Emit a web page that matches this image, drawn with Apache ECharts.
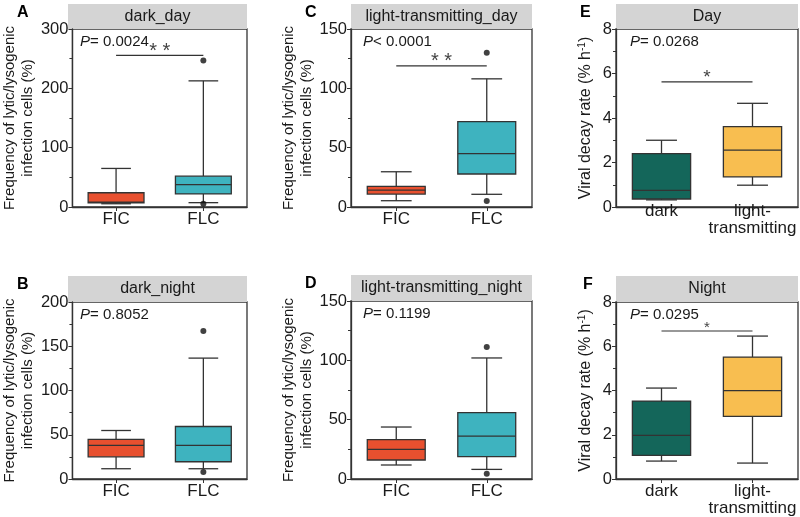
<!DOCTYPE html>
<html>
<head>
<meta charset="utf-8">
<script src="https://cdn.jsdelivr.net/npm/echarts@6/dist/echarts.min.js"></script>
<style>
  html, body { margin: 0; padding: 0; background: #fff; }
  #main { width: 800px; height: 517px; }
</style>
</head>
<body>
<div id="main"></div>
<script>
// categories
const freqCats = ['FIC', 'FLC'];
const decayCats = ['dark', 'light-\ntransmitting'];

// box data: [min, Q1, median, Q3, max]
const darkDayBox = [[5.5, 7.2, 8, 24, 65], [7.3, 22, 37.6, 52, 212.6]];
const darkDayOut = [[1, 246.8], [1, 5.6]];
const lightDayBox = [[5.3, 10.9, 14.3, 17.4, 29.7], [10.7, 27.8, 44.9, 72, 108]];
const lightDayOut = [[1, 130], [1, 5]];
const darkNightBox = [[11.6, 25.1, 37.9, 44.7, 54.8], [11.6, 19.5, 37.9, 59.3, 136.6]];
const darkNightOut = [[1, 167.3], [1, 7.9]];
const lightNightBox = [[11.8, 16, 25, 33.1, 43.8], [8.1, 18.8, 36.2, 55.9, 102]];
const lightNightOut = [[1, 111.2], [1, 4.5]];
const dayDecayBox = [[0.32, 0.36, 0.75, 2.4, 3.0], [0.98, 1.35, 2.56, 3.61, 4.66]];
const nightDecayBox = [[0.81, 1.07, 1.97, 3.52, 4.11], [0.72, 2.83, 3.99, 5.51, 6.46]];

// significance bars: [from, to, y]
const darkDaySig = [0, 1, 255.7];
const lightDaySig = [0, 1, 119];
const dayDecaySig = [0, 1, 5.62];
const nightDecaySig = [0, 1, 6.69];

// p values and y scales
const pTexts = ['= 0.0024', '< 0.0001', '= 0.0268', '= 0.8052', '= 0.1199', '= 0.0295'];
const yMax = [300, 150, 8, 200, 150, 8];
const yStep = [100, 50, 2, 50, 50, 2];

const freqColors = ['#E8502F', '#3EB3BF'];
const decayColors = ['#14665A', '#F8BE50'];
const freqName = 'Frequency of lytic/lysogenic\ninfection cells (%)';

const panels = [
  { letter: 'A', title: 'dark_day', cats: freqCats, colors: freqColors, box: darkDayBox, out: darkDayOut, sig: darkDaySig, mark: '* *',
    grid: { left: 68, top: 29, width: 179, height: 178 }, strip: 25, nameGap: 34, labelMargin: 3, markSize: 20, letterDx: 51 },
  { letter: 'C', title: 'light-transmitting_day', cats: freqCats, colors: freqColors, box: lightDayBox, out: lightDayOut, sig: lightDaySig, mark: '* *',
    grid: { left: 351, top: 29, width: 181, height: 178 }, strip: 25, nameGap: 28, labelMargin: 3, markSize: 20, letterDx: 46 },
  { letter: 'E', title: 'Day', cats: decayCats, colors: decayColors, box: dayDecayBox, out: [], sig: dayDecaySig, mark: '*',
    grid: { left: 616, top: 29, width: 182, height: 178 }, strip: 25, nameGap: 21, labelMargin: -4, markSize: 19, letterDx: 36 },
  { letter: 'B', title: 'dark_night', cats: freqCats, colors: freqColors, box: darkNightBox, out: darkNightOut, sig: null,
    grid: { left: 68, top: 302, width: 179, height: 177 }, strip: 26, nameGap: 34, labelMargin: 3, letterDx: 51 },
  { letter: 'D', title: 'light-transmitting_night', cats: freqCats, colors: freqColors, box: lightNightBox, out: lightNightOut, sig: null,
    grid: { left: 351, top: 301, width: 181, height: 178 }, strip: 26, nameGap: 29, labelMargin: 3, letterDx: 46 },
  { letter: 'F', title: 'Night', cats: decayCats, colors: decayColors, box: nightDecayBox, out: [], sig: nightDecaySig, mark: '*',
    grid: { left: 616, top: 302, width: 182, height: 177 }, strip: 26, nameGap: 21, labelMargin: 4, markSize: 15, letterDx: 33 }
];

const LINE = '#333';
const TXT = '#1a1a1a';
const FONT = '"Liberation Sans", Arial, sans-serif';

function boxRenderer(colors) {
  return function (params, api) {
    const idx = api.value(0);
    const band = api.size([1, 0])[0];
    const half = band * 0.32;
    const cap = band * 0.17;
    const pMin = api.coord([idx, api.value(1)]);
    const pQ1 = api.coord([idx, api.value(2)]);
    const pMed = api.coord([idx, api.value(3)]);
    const pQ3 = api.coord([idx, api.value(4)]);
    const pMax = api.coord([idx, api.value(5)]);
    const x = pMin[0];
    const ls = { stroke: LINE, lineWidth: 1.3 };
    return {
      type: 'group',
      children: [
        { type: 'line', shape: { x1: x, y1: pMax[1], x2: x, y2: pQ3[1] }, style: ls },
        { type: 'line', shape: { x1: x, y1: pQ1[1], x2: x, y2: pMin[1] }, style: ls },
        { type: 'line', shape: { x1: x - cap, y1: pMax[1], x2: x + cap, y2: pMax[1] }, style: ls },
        { type: 'line', shape: { x1: x - cap, y1: pMin[1], x2: x + cap, y2: pMin[1] }, style: ls },
        { type: 'rect', shape: { x: x - half, y: pQ3[1], width: 2 * half, height: pQ1[1] - pQ3[1] },
          style: { fill: colors[idx], stroke: LINE, lineWidth: 1.3 } },
        { type: 'line', shape: { x1: x - half, y1: pMed[1], x2: x + half, y2: pMed[1] }, style: ls }
      ]
    };
  };
}

function sigRenderer(mark, size) {
  return function (params, api) {
    const a = api.coord([api.value(0), api.value(2)]);
    const b = api.coord([api.value(1), api.value(2)]);
    return {
      type: 'group',
      children: [
        { type: 'line', shape: { x1: a[0], y1: a[1], x2: b[0], y2: b[1] }, style: { stroke: LINE, lineWidth: 1.2 } },
        { type: 'text', x: (a[0] + b[0]) / 2, y: a[1] + size * 0.3,
          style: { text: mark, fill: '#444', font: size + 'px ' + FONT, align: 'center', verticalAlign: 'bottom' } }
      ]
    };
  };
}

const grids = [], xAxes = [], yAxes = [], series = [], graphics = [];

panels.forEach(function (p, i) {
  grids.push(Object.assign({ show: true, borderColor: LINE, borderWidth: 1.3, backgroundColor: '#fff' }, p.grid));
  const isDecay = p.cats === decayCats;
  xAxes.push({
    gridIndex: i, type: 'category', data: p.cats,
    axisLine: { lineStyle: { color: LINE, width: 1.3 } },
    axisTick: { show: true, alignWithLabel: true, length: 4, lineStyle: { color: LINE } },
    axisLabel: { interval: 0, color: TXT, fontSize: 17, fontFamily: FONT, margin: p.labelMargin, lineHeight: isDecay ? 17 : 18 }
  });
  yAxes.push({
    gridIndex: i, type: 'value', min: 0, max: yMax[i], interval: yStep[i],
    name: isDecay ? '{a|Viral decay rate (% h}{s|-1}{a|)}' : freqName,
    nameLocation: 'middle', nameGap: p.nameGap,
    nameTextStyle: isDecay
      ? { color: TXT, fontFamily: FONT, rich: { a: { fontSize: 16, color: TXT, fontFamily: FONT, lineHeight: 18 },
          s: { fontSize: 10, color: TXT, fontFamily: FONT, verticalAlign: 'top', lineHeight: 18 } } }
      : { color: TXT, fontSize: 15, fontFamily: FONT, lineHeight: 18 },
    axisLine: { show: true, lineStyle: { color: LINE, width: 1.3 } },
    axisTick: { show: true, length: 4, lineStyle: { color: LINE } },
    minorTick: { show: true, splitNumber: 2, length: 3, lineStyle: { color: LINE } },
    splitLine: { show: false },
    axisLabel: { color: TXT, fontSize: 16.5, fontFamily: FONT, margin: 4 }
  });
  series.push({
    type: 'custom', xAxisIndex: i, yAxisIndex: i,
    renderItem: boxRenderer(p.colors),
    encode: { x: 0, y: [1, 2, 3, 4, 5] },
    data: p.box.map(function (b, k) { return [k].concat(b); }),
    silent: true
  });
  if (p.out.length) {
    series.push({
      type: 'scatter', xAxisIndex: i, yAxisIndex: i, data: p.out,
      symbolSize: 6, itemStyle: { color: '#111' }, silent: true, z: 5
    });
  }
  if (p.sig) {
    series.push({
      type: 'custom', xAxisIndex: i, yAxisIndex: i,
      renderItem: sigRenderer(p.mark, p.markSize),
      encode: { x: [0, 1], y: 2 },
      data: [p.sig], silent: true
    });
  }
  // header strip
  graphics.push({
    type: 'rect', left: p.grid.left, top: p.grid.top - p.strip,
    shape: { width: p.grid.width, height: p.strip },
    style: { fill: '#d4d4d4' }, silent: true
  });
  graphics.push({
    type: 'text', x: p.grid.left + p.grid.width / 2, y: p.grid.top - p.strip / 2,
    style: { text: p.title, fill: TXT, font: '16px ' + FONT, align: 'center', verticalAlign: 'middle' }, silent: true
  });
  // panel letter
  graphics.push({
    type: 'text', x: p.grid.left - p.letterDx, y: p.grid.top - p.strip + 1,
    style: { text: p.letter, fill: '#000', font: 'bold 16px ' + FONT, align: 'left', verticalAlign: 'top' }, silent: true
  });
  // P value
  graphics.push({
    type: 'text', x: p.grid.left + (isDecay ? 14 : 12), y: p.grid.top + 13,
    style: {
      text: '{i|P}{n|' + pTexts[i] + '}', align: 'left', verticalAlign: 'middle',
      rich: { i: { fontSize: 15, fontStyle: 'italic', fontFamily: FONT, fill: TXT },
              n: { fontSize: 15, fontFamily: FONT, fill: TXT } }
    }, silent: true
  });
});

const chart = echarts.init(document.getElementById('main'), null, { renderer: 'canvas' });
chart.setOption({
  backgroundColor: '#fff',
  animation: false,
  grid: grids,
  xAxis: xAxes,
  yAxis: yAxes,
  series: series,
  graphic: graphics
});
</script>
</body>
</html>
